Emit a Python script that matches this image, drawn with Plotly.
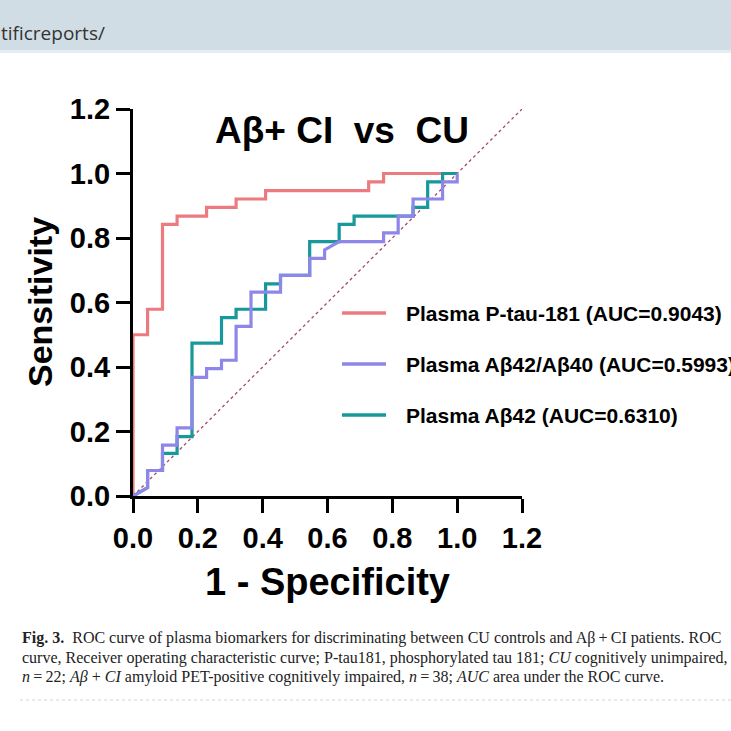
import plotly.graph_objects as go

# ---------------- data ----------------
series_names = ["Plasma P-tau-181 (AUC=0.9043)",
                "Plasma Aβ42/Aβ40 (AUC=0.5993)",
                "Plasma Aβ42 (AUC=0.6310)"]

ptau_fpr = [0, 0, 0.045, 0.045, 0.091, 0.091, 0.136, 0.136, 0.227, 0.227,
            0.318, 0.318, 0.409, 0.409, 0.727, 0.727, 0.773, 0.773, 1.0]
ptau_tpr = [0, 0.5, 0.5, 0.579, 0.579, 0.842, 0.842, 0.868, 0.868, 0.895,
            0.895, 0.921, 0.921, 0.947, 0.947, 0.974, 0.974, 1.0, 1.0]

ratio_fpr = [0, 0.045, 0.045, 0.091, 0.091, 0.136, 0.136, 0.182, 0.182, 0.227,
             0.227, 0.273, 0.273, 0.318, 0.318, 0.364, 0.364, 0.455, 0.455, 0.545,
             0.545, 0.591, 0.591, 0.636, 0.773, 0.773, 0.818, 0.818, 0.864, 0.864,
             0.955, 0.955, 1.0, 1.0]
ratio_tpr = [0, 0.026, 0.079, 0.079, 0.158, 0.158, 0.211, 0.211, 0.368, 0.368,
             0.395, 0.395, 0.421, 0.421, 0.526, 0.526, 0.632, 0.632, 0.684, 0.684,
             0.737, 0.737, 0.763, 0.789, 0.789, 0.816, 0.816, 0.868, 0.868, 0.921,
             0.921, 0.974, 0.974, 1.0]

ab42_fpr = [0, 0.045, 0.045, 0.091, 0.091, 0.136, 0.136, 0.182, 0.182, 0.273,
            0.273, 0.318, 0.318, 0.409, 0.409, 0.455, 0.455, 0.545, 0.545, 0.636,
            0.636, 0.682, 0.682, 0.864, 0.864, 0.909, 0.909, 0.955, 0.955, 1.0]
ab42_tpr = [0, 0.026, 0.079, 0.079, 0.132, 0.132, 0.184, 0.184, 0.474, 0.474,
            0.553, 0.553, 0.579, 0.579, 0.658, 0.658, 0.684, 0.684, 0.789, 0.789,
            0.842, 0.842, 0.868, 0.868, 0.895, 0.895, 0.974, 0.974, 1.0, 1.0]

ref_x = [0, 1.2]
ref_y = [0, 1.2]

x_ticks = [0.0, 0.2, 0.4, 0.6, 0.8, 1.0, 1.2]
y_ticks = [0.0, 0.2, 0.4, 0.6, 0.8, 1.0, 1.2]

colors = ["#EC7B80", "#8E86E8", "#17989A"]

# ---------------- layout geometry (pixels) ----------------
W, H = 731, 731
L, R, T, B = 133, 522, 109, 496


def px(x):
    return (x - L) / (R - L)


def py(y):
    return (B - y) / (B - T)


fig = go.Figure()

fig.add_trace(go.Scatter(x=ref_x, y=ref_y, mode="lines",
                         line=dict(color="#A8476E", width=1.3, dash="dot"),
                         showlegend=False, hoverinfo="skip"))
fig.add_trace(go.Scatter(x=ptau_fpr, y=ptau_tpr, mode="lines", name=series_names[0],
                         line=dict(color=colors[0], width=3.2), showlegend=False))
fig.add_trace(go.Scatter(x=ab42_fpr, y=ab42_tpr, mode="lines", name=series_names[2],
                         line=dict(color=colors[2], width=3.2), showlegend=False))
fig.add_trace(go.Scatter(x=ratio_fpr, y=ratio_tpr, mode="lines", name=series_names[1],
                         line=dict(color=colors[1], width=3.2), showlegend=False))

bold = dict(family="Liberation Sans, Arial, sans-serif", color="black", weight="bold")

axis_common = dict(range=[0, 1.2], showgrid=False, zeroline=False, showline=True,
                   linecolor="black", linewidth=3, ticks="outside", ticklen=14,
                   tickwidth=3, tickcolor="black", tickformat=".1f",
                   tickfont=dict(size=29, **bold), fixedrange=True)

fig.update_xaxes(tickvals=x_ticks, **axis_common)
fig.update_yaxes(tickvals=y_ticks, **axis_common)

shapes = []
annotations = []

# top banner
shapes.append(dict(type="rect", xref="paper", yref="paper",
                   x0=px(-5), x1=px(W + 5), y0=py(0 - 5), y1=py(50),
                   fillcolor="#D0DDE5", line=dict(width=0), layer="below"))
shapes.append(dict(type="line", xref="paper", yref="paper",
                   x0=px(-5), x1=px(W + 5), y0=py(51.5), y1=py(51.5),
                   line=dict(color="#E4EDF2", width=3)))
annotations.append(dict(text="tificreports/", xref="paper", yref="paper",
                        x=px(-1), y=py(33), xanchor="left", yanchor="middle",
                        showarrow=False,
                        font=dict(family="Open Sans, sans-serif", size=19, color="#333333")))

# chart title
annotations.append(dict(text="Aβ+ CI\u00a0 vs\u00a0 CU", xref="paper", yref="paper",
                        x=px(342), y=py(130), xanchor="center", yanchor="middle",
                        showarrow=False, font=dict(size=37, **bold)))

# axis titles
annotations.append(dict(text="1 - Specificity", xref="paper", yref="paper",
                        x=px(327), y=py(582), xanchor="center", yanchor="middle",
                        showarrow=False, font=dict(size=38, **bold)))
annotations.append(dict(text="Sensitivity", xref="paper", yref="paper",
                        x=px(40), y=py(302), xanchor="center", yanchor="middle",
                        textangle=-90, showarrow=False, font=dict(size=34, **bold)))

# manual legend
leg_y = [313, 364, 415]
for name, col, yy in zip(series_names, colors, leg_y):
    shapes.append(dict(type="line", xref="paper", yref="paper",
                       x0=px(342), x1=px(386), y0=py(yy), y1=py(yy),
                       line=dict(color=col, width=3.5)))
    annotations.append(dict(text=name, xref="paper", yref="paper",
                            x=px(404), y=py(yy), xanchor="left", yanchor="middle",
                            showarrow=False, font=dict(size=21, **bold)))

# caption
serif = dict(family="Liberation Serif, Times New Roman, serif", size=16, color="#222222")
cap_lines = [
    "<b>Fig. 3.</b>  ROC curve of plasma biomarkers for discriminating between CU controls and Aβ\u2009+\u2009CI patients. ROC",
    "curve, Receiver operating characteristic curve; P-tau181, phosphorylated tau 181; <i>CU</i> cognitively unimpaired,",
    "<i>n</i>\u2009=\u200922; <i>Aβ\u2009+\u2009CI</i> amyloid PET-positive cognitively impaired, <i>n</i>\u2009=\u200938; <i>AUC</i> area under the ROC curve.",
]
for line, yy in zip(cap_lines, [638, 658, 677]):
    annotations.append(dict(text=line, xref="paper", yref="paper",
                            x=px(20), y=py(yy), xanchor="left", yanchor="middle",
                            showarrow=False, font=serif))

shapes.append(dict(type="line", xref="paper", yref="paper",
                   x0=px(20), x1=px(W + 5), y0=py(700), y1=py(700),
                   line=dict(color="#D4D4D4", width=1, dash="dot")))

fig.update_layout(width=W, height=H,
                  margin=dict(l=L, r=W - R, t=T, b=H - B, pad=0),
                  paper_bgcolor="white", plot_bgcolor="white",
                  showlegend=False, shapes=shapes, annotations=annotations)

fig.write_html("out.html",
               config={"displayModeBar": False, "staticPlot": True},
               post_script="document.body.style.margin='0px';"
                           "document.body.style.overflow='hidden';")
